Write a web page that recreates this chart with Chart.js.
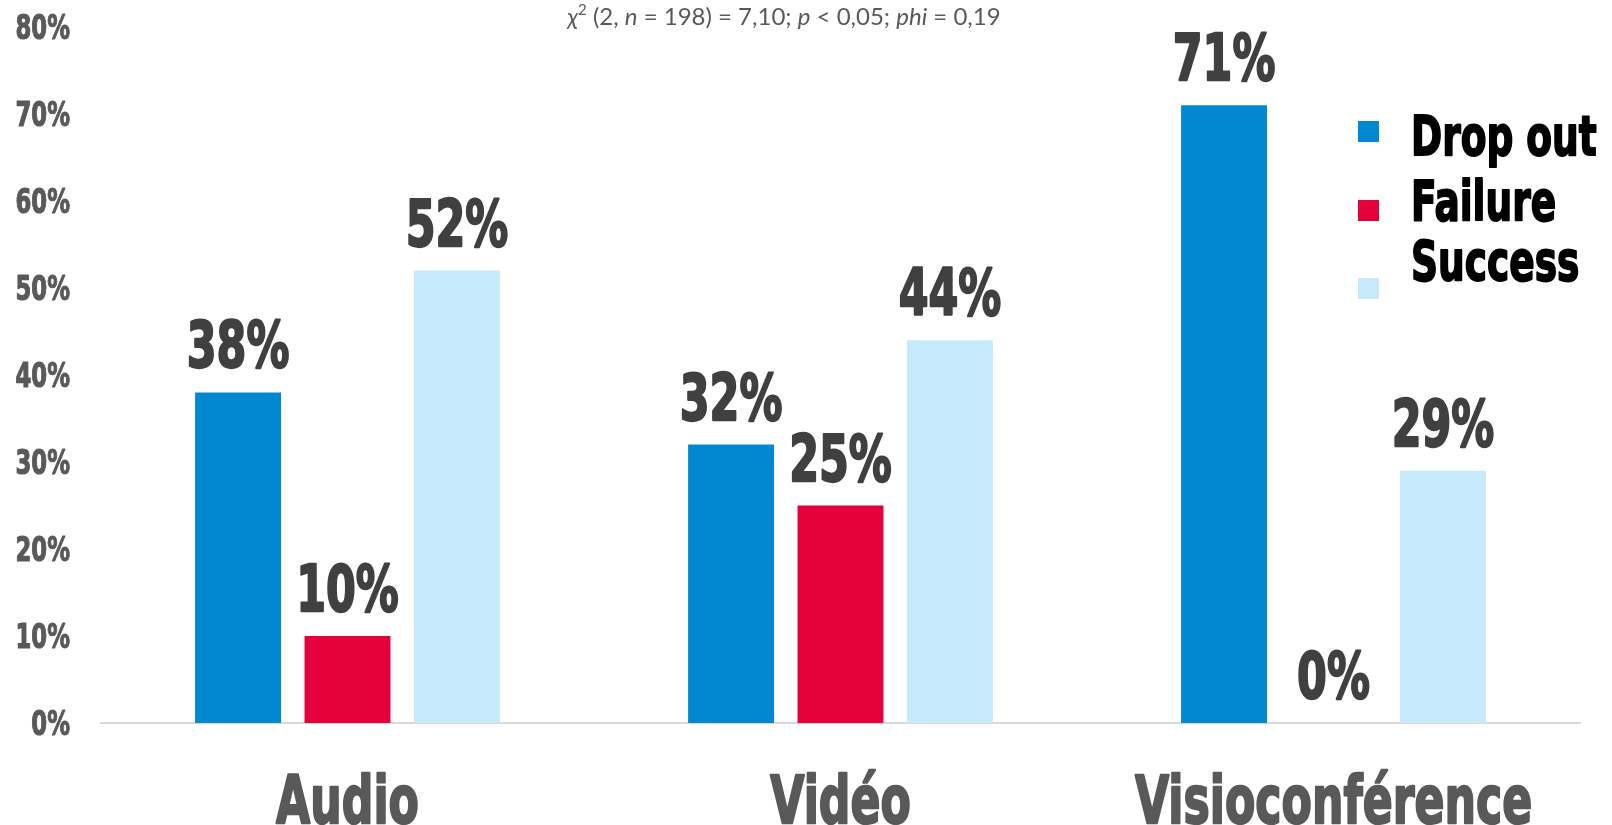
<!DOCTYPE html>
<html>
<head>
<meta charset="utf-8">
<script src="https://cdn.jsdelivr.net/npm/chart.js@4/dist/chart.umd.min.js"></script>
<style>
  html, body { margin: 0; padding: 0; background: #fff; }
  #wrap { width: 1612px; height: 825px; position: relative; }
</style>
</head>
<body>
<div id="wrap"><canvas id="chart" width="1612" height="825"></canvas></div>
<script>
// ── données ──
const categories  = ['Audio', 'Vidéo', 'Visioconférence'];
const seriesNames = ['Drop out', 'Failure', 'Success'];
const dropOut     = [38, 32, 71];
const failure     = [10, 25, 0];
const success     = [52, 44, 29];
const yMax        = 80;
const yStep       = 10;

const COLORS = ['#0288D1', '#E3003B', '#C6E9FB'];

// texte gras étroit (façon Impact) : DejaVu Sans Bold compressé et épaissi
const SQUEEZE = 0.67;
function narrowText(ctx, text, x, y, px, color, align) {
  ctx.save();
  ctx.font = 'bold ' + px + 'px "DejaVu Sans", sans-serif';
  ctx.fillStyle = color;
  ctx.strokeStyle = color;
  ctx.lineWidth = px / 28;
  ctx.lineJoin = 'round';
  ctx.textAlign = align;
  ctx.textBaseline = 'alphabetic';
  ctx.translate(x, y);
  ctx.scale(SQUEEZE, 1);
  ctx.fillText(text, 0, 0);
  ctx.strokeText(text, 0, 0);
  ctx.restore();
}

// ── libellés des axes (dessinés à partir des échelles du graphique) ──
const axisLabels = {
  id: 'axisLabels',
  afterDraw(chart) {
    const { ctx, scales: { x, y } } = chart;
    y.ticks.forEach(t => {
      narrowText(ctx, t.value + '%', 70, y.getPixelForValue(t.value) + 12, 34, '#595959', 'right');
    });
    categories.forEach((c, i) => {
      narrowText(ctx, c, x.getPixelForTick(i), 823, 66, '#595959', 'center');
    });
  },
};

// ── étiquettes de valeur au-dessus des barres ──
const valueLabels = {
  id: 'valueLabels',
  afterDatasetsDraw(chart) {
    const { ctx } = chart;
    chart.data.datasets.forEach((ds, i) => {
      chart.getDatasetMeta(i).data.forEach((bar, j) => {
        narrowText(ctx, ds.data[j] + '%', bar.x, bar.y - 25, 64, '#404040', 'center');
      });
    });
  },
};

// ── légende à droite ──
const sideLegend = {
  id: 'sideLegend',
  afterDraw(chart) {
    const { ctx } = chart;
    const boxY  = [121, 200, 278];
    const textY = [155, 220, 280];
    chart.data.datasets.forEach((ds, i) => {
      ctx.fillStyle = ds.backgroundColor;
      ctx.fillRect(1358, boxY[i], 21, 21);
      narrowText(ctx, ds.label, 1411, textY[i], 56, '#000', 'left');
    });
  },
};

// ── statistique du khi-deux en haut ──
const statLine = {
  id: 'statLine',
  afterDraw(chart) {
    const { ctx } = chart;
    const base = '24px Lato, sans-serif';
    const ital = 'italic 24px Lato, sans-serif';
    const parts = [
      [ital, 'χ'], ['15px Lato, sans-serif', '2', -10], [base, ' (2, '], [ital, 'n'],
      [base, ' = 198) = 7,10; '], [ital, 'p'], [base, ' < 0,05; '], [ital, 'phi'], [base, ' = 0,19'],
    ];
    ctx.save();
    ctx.fillStyle = '#595959';
    ctx.textBaseline = 'alphabetic';
    let total = 0;
    parts.forEach(p => { ctx.font = p[0]; total += ctx.measureText(p[1]).width; });
    let x = 784 - total / 2;
    parts.forEach(p => {
      ctx.font = p[0];
      ctx.fillText(p[1], x, 25 + (p[2] || 0));
      x += ctx.measureText(p[1]).width;
    });
    ctx.restore();
  },
};

new Chart(document.getElementById('chart'), {
  type: 'bar',
  data: {
    labels: categories,
    datasets: [dropOut, failure, success].map((d, i) => ({
      label: seriesNames[i],
      data: d,
      backgroundColor: COLORS[i],
      borderWidth: 0,
      categoryPercentage: 0.666,
      barPercentage: 0.785,
    })),
  },
  options: {
    responsive: false,
    animation: false,
    layout: { padding: { top: 27, right: 32, bottom: 0, left: 0 } },
    plugins: { legend: { display: false }, tooltip: { enabled: false } },
    scales: {
      x: {
        grid: { display: false, drawTicks: false },
        border: { display: true, color: '#d9d9d9', width: 2 },
        ticks: { display: false },
        afterFit: s => { s.height = 102; },
      },
      y: {
        min: 0, max: yMax,
        grid: { display: false, drawTicks: false },
        border: { display: false },
        ticks: { display: false, stepSize: yStep },
        afterFit: s => { s.width = 101; },
      },
    },
  },
  plugins: [valueLabels, axisLabels, sideLegend, statLine],
});
</script>
</body>
</html>
